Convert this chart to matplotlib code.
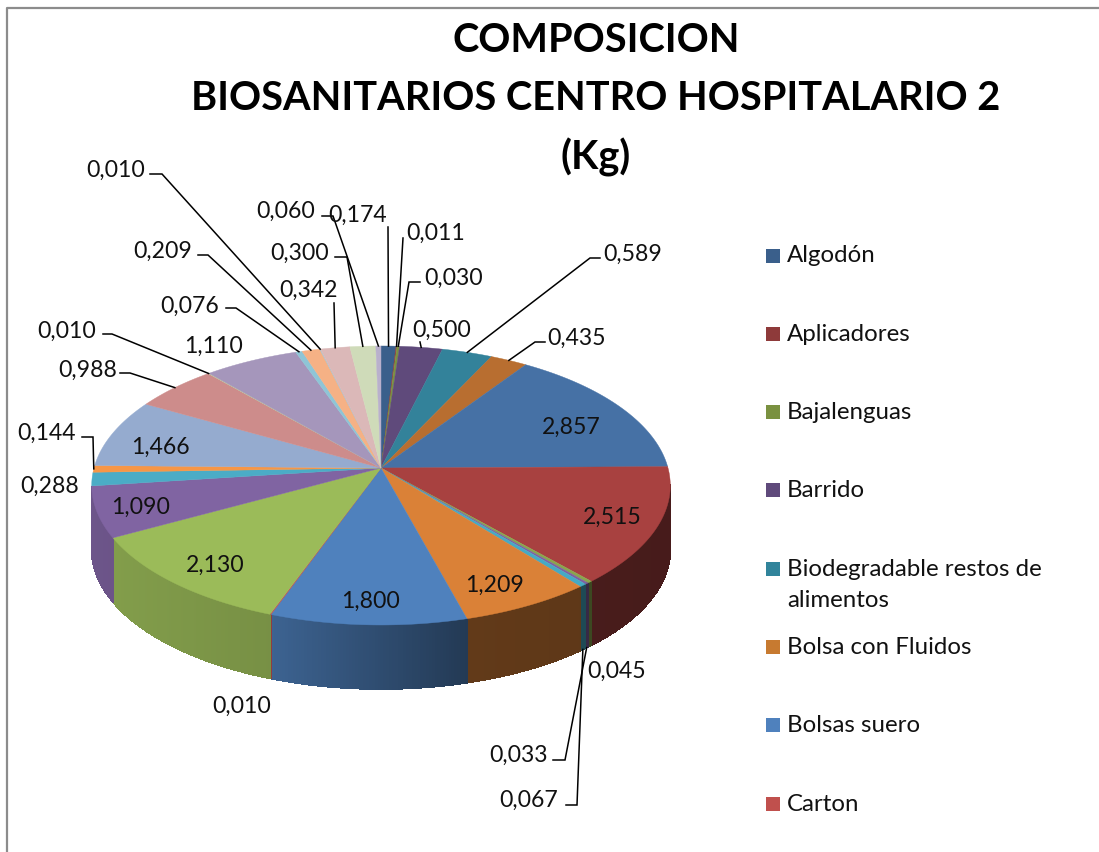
import numpy as np
import matplotlib
matplotlib.use('Agg')
import matplotlib.pyplot as plt
from matplotlib.collections import PolyCollection
from matplotlib.colors import to_rgb

plt.rcParams['font.family'] = ['Lato', 'DejaVu Sans']

title_lines = ['COMPOSICION', 'BIOSANITARIOS CENTRO HOSPITALARIO 2', '(Kg)']

values = [0.174, 0.011, 0.030, 0.500, 0.589, 0.435, 2.857, 2.515, 0.045, 0.033,
          0.067, 1.209, 1.800, 0.010, 2.130, 1.090, 0.288, 0.144, 1.466, 0.988,
          0.010, 1.110, 0.076, 0.209, 0.010, 0.342, 0.300, 0.060]

colors = ['#3a5f8b', '#8e3a3a', '#7a9140', '#5f4a7b', '#33829a', '#b86e30', '#4671a5',
          '#a84140', '#8aa64d', '#7f60a0', '#46aac4', '#da8137', '#4f81bd', '#c0504d',
          '#9bbb59', '#8064a2', '#4bacc6', '#f79646', '#95abcf', '#cd8c8b', '#c2d2a0',
          '#a596bb', '#8ec5d6', '#f5b185', '#a9c4d0', '#dbb8b8', '#cfdbb9', '#b9b0cc']

legend_names = ['Algodón', 'Aplicadores', 'Bajalenguas', 'Barrido',
                'Biodegradable restos de\nalimentos', 'Bolsa con Fluidos',
                'Bolsas suero', 'Carton']
legend_colors = ['#3a5f8b', '#8e3a3a', '#7a9140', '#5f4a7b', '#31849b', '#c77a30',
                 '#4f81bd', '#c0504d']

# posicion del texto de cada etiqueta (pixeles)
label_pos = [(358, 215), (436, 233), (454, 278), (442, 330), (633, 254), (576, 338),
             (571, 427), (612, 517), (617, 671), (518, 755), (529, 800), (495, 585),
             (370, 601), (242, 706), (215, 565), (141, 507), (50, 486), (47, 433),
             (160, 447), (88, 370), (67, 331), (213, 346), (190, 306), (163, 251),
             (116, 170), (308, 290), (300, 253), (286, 211)]

# lineas guia: indice de porcion -> quiebres desde el texto hacia la torta
leaders = {
    0: [(388, 227)],
    1: [(403, 238)],
    2: [(420, 282), (409, 282)],
    3: [(420, 342)],
    4: [(600, 258), (590, 258)],
    5: [(545, 342), (535, 342)],
    9: [(553, 760), (565, 760)],
    10: [(566, 805), (577, 805)],
    17: [(82, 437), (93, 437)],
    19: [(120, 373), (130, 373)],
    20: [(103, 334), (112, 334)],
    22: [(226, 308), (236, 308)],
    23: [(198, 255), (208, 255)],
    24: [(150, 174), (162, 174)],
    25: [(334, 303)],
    26: [(335, 257), (347, 257)],
    27: [(322, 216), (333, 216)],
}

CX, CY = 381, 468
RX, RY = 287, 137.3
PERSP = 0.1254
DEPTH = 64


def project(theta):
    # angulo en grados, horario desde arriba -> pixeles con perspectiva
    t = np.radians(theta)
    k = 1 + PERSP * np.cos(t)
    return CX + RX * np.sin(t) / k, CY - RY * np.cos(t) / k


fig = plt.figure(figsize=(10.99, 8.52), dpi=100)
ax = fig.add_axes([0, 0, 1, 1])
ax.set_xlim(0, 1099)
ax.set_ylim(852, 0)
ax.axis('off')

# marco gris
ax.plot([7, 7, 1099], [852, 8, 8], color='#8c8c8c', lw=1.6)

edges = np.concatenate([[0], np.cumsum(values)]) / sum(values) * 360

# pared lateral, solo la parte visible, de a tiras para el degrade
strips, strip_colors = [], []
for i, col in enumerate(colors):
    a0, a1 = max(edges[i], 97), min(edges[i + 1], 262.4)
    if a1 <= a0:
        continue
    th = np.linspace(a0, a1, max(int((a1 - a0) * 2), 1) + 1)
    x, y = project(th)
    base = np.array(to_rgb(col))
    for j in range(len(th) - 1):
        strips.append([(x[j], y[j]), (x[j + 1], y[j + 1]),
                       (x[j + 1], y[j + 1] + DEPTH), (x[j], y[j] + DEPTH)])
        shade = np.interp((x[j] + x[j + 1]) / 2, [91, 270, 465, 671], [0.85, 0.77, 0.45, 0.42])
        strip_colors.append(base * shade)
ax.add_collection(PolyCollection(strips, facecolors=strip_colors, edgecolors=strip_colors,
                                 linewidths=0.6, antialiaseds=False))

# cara superior
for i, col in enumerate(colors):
    th = np.linspace(edges[i], edges[i + 1], max(int(edges[i + 1] - edges[i]) * 2, 2) + 1)
    x, y = project(th)
    ax.fill(np.r_[CX, x], np.r_[CY, y], color=col, lw=0.3)

# etiquetas
for i, v in enumerate(values):
    txt = f'{v:.3f}'.replace('.', ',')
    ax.text(label_pos[i][0], label_pos[i][1], txt, fontsize=16.6, color='#111111', ha='center', va='center')

for i, pts in leaders.items():
    mid = (edges[i] + edges[i + 1]) / 2
    mx, my = project(mid)
    if 100 < mid < 260:
        my = my + DEPTH
    px = [p[0] for p in pts] + [mx]
    py = [p[1] for p in pts] + [my]
    ax.plot(px, py, color='black', lw=1.1, solid_joinstyle='miter')

# titulo, linea por linea
for line, y in zip(title_lines, [41, 99, 157]):
    ax.text(596, y, line, fontsize=28.6, fontweight='bold', color='black', ha='center', va='center')

# leyenda
for i, name in enumerate(legend_names):
    y = 255.5 + i * 78.3
    ax.scatter([772.5], [y], marker='s', s=108, color=legend_colors[i], linewidths=0)
    ax.text(787, y - 10, name, fontsize=17.3, color='#111111', ha='left', va='top', linespacing=1.6)

fig.savefig('out.png', dpi=100)
